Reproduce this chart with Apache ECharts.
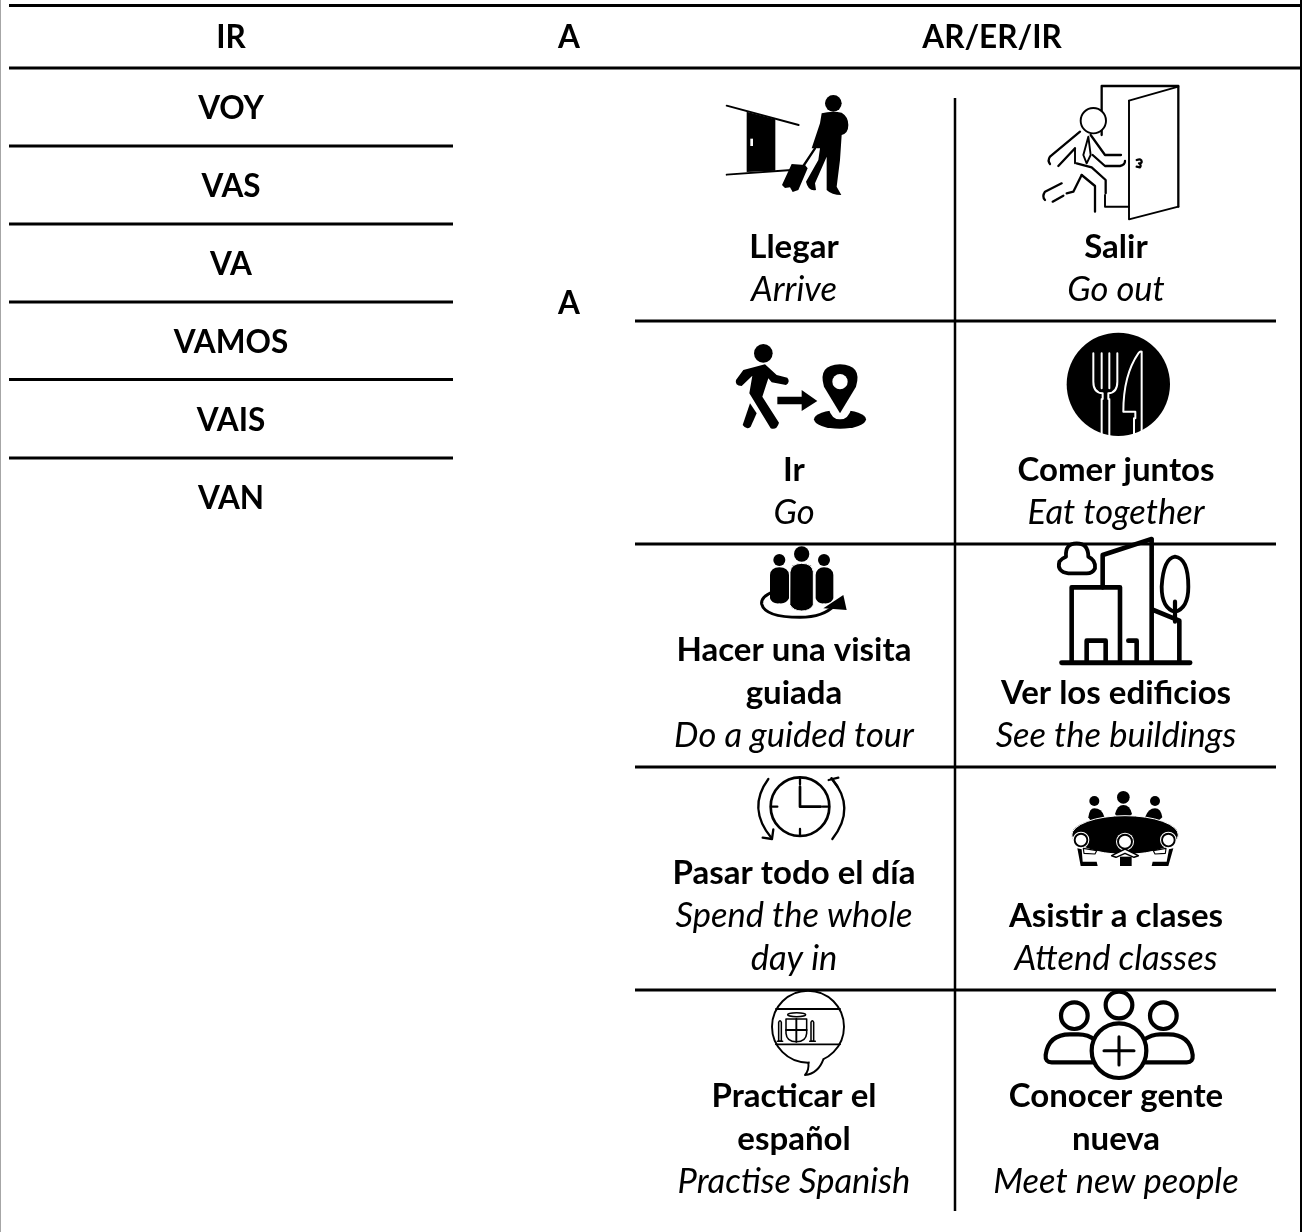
<!DOCTYPE html>
<html>
<head>
<meta charset="utf-8">
<style>html,body{margin:0;padding:0;background:#fff}#c{width:1302px;height:1232px}</style>
<script src="https://cdn.jsdelivr.net/npm/echarts@6/dist/echarts.min.js"></script>
</head>
<body>
<div id="c"></div>
<script>
// ---- content ----
const headers = ['IR', 'A', 'AR/ER/IR'];
const conjugations = ['VOY', 'VAS', 'VA', 'VAMOS', 'VAIS', 'VAN'];
const preposition = 'A';
const activitiesSpanish = [
  ['Llegar'], ['Salir'],
  ['Ir'], ['Comer juntos'],
  ['Hacer una visita', 'guiada'], ['Ver los edificios'],
  ['Pasar todo el día'], ['Asistir a clases'],
  ['Practicar el', 'español'], ['Conocer gente', 'nueva']
];
const activitiesEnglish = [
  ['Arrive'], ['Go out'],
  ['Go'], ['Eat together'],
  ['Do a guided tour'], ['See the buildings'],
  ['Spend the whole', 'day in'], ['Attend classes'],
  ['Practise Spanish'], ['Meet new people']
];

// ---- layout (pixels of the 1302x1232 page, fed through hidden axes) ----
const PAGE_W = 1302, PAGE_H = 1232;
const COL_X = { left: 231, mid: 569, right: 992, actA: 794, actB: 1116 };
const HEADER_Y = 38, CONJ_Y0 = 109, CONJ_STEP = 78, A_Y = 304;
const CELL_BOTTOM = [321, 544, 767, 990, 1213];
const LINE_STEP = 43, BOTTOM_PAD = 31;
const FONT = 'Lato, Carlito, Calibri, sans-serif';
const FS_CAPS = 31.5, FS_BOLD = 33, FS_ITALIC = 34.5;
const STROKE_BOOST = 1.15;

const rules = [
  [9, 5.5, 1300, 5.5, 3], [9, 68, 1300, 68, 3],
  [9, 146, 453, 146, 3], [9, 224, 453, 224, 3], [9, 302, 453, 302, 3],
  [9, 379.5, 453, 379.5, 3], [9, 458, 453, 458, 3],
  [635, 321, 1276, 321, 3], [635, 544, 1276, 544, 3], [635, 767, 1276, 767, 3], [635, 990, 1276, 990, 3],
  [955, 98, 955, 1211, 2.5], [1301, 0, 1301, 1232, 2]
];

// ---- text items ----
const texts = [];
headers.forEach((t, i) => texts.push({ t, x: [COL_X.left, COL_X.mid, COL_X.right][i], y: HEADER_Y, b: 2 }));
conjugations.forEach((t, i) => texts.push({ t, x: COL_X.left, y: CONJ_Y0 + CONJ_STEP * i, b: 2 }));
texts.push({ t: preposition, x: COL_X.mid, y: A_Y, b: 2 });
activitiesSpanish.forEach((es, i) => {
  const en = activitiesEnglish[i];
  const x = i % 2 ? COL_X.actB : COL_X.actA;
  const bottom = CELL_BOTTOM[Math.floor(i / 2)] - BOTTOM_PAD;
  en.forEach((t, k) => texts.push({ t, x, y: bottom - LINE_STEP * (en.length - 1 - k), b: 0 }));
  es.forEach((t, k) => texts.push({ t, x, y: bottom - LINE_STEP * (en.length + es.length - 1 - k), b: 1 }));
});
const fontOf = b => (b === 2 ? 'bold ' + FS_CAPS : b === 1 ? 'bold ' + FS_BOLD : 'italic ' + FS_ITALIC) + 'px ' + FONT;

// ---- icons: drawn at 3x in their own frame, placed at an origin ----
const circ = (cx, cy, r) => `M${cx - r},${cy}A${r},${r} 0 1 1 ${cx + r},${cy}A${r},${r} 0 1 1 ${cx - r},${cy}Z`;
const ell = (cx, cy, rx, ry) => `M${cx - rx},${cy}A${rx},${ry} 0 1 1 ${cx + rx},${cy}A${rx},${ry} 0 1 1 ${cx - rx},${cy}Z`;
const K = '#000', W = '#fff', N = 'none';
const icons = [
  { at: [700, 80], parts: [ // Llegar
    ['M80,77L296,135', N, K, 5], ['M80,284L275,270', N, K, 5],
    ['M140,95L226,118V272L140,276Z', K],
    ['M151,176h8v22h-8Z', W],
    [circ(400, 70, 25), K],
    ['M365,100Q395,92 425,98Q445,110 445,135Q445,160 425,165L420,240L410,320L424,345Q395,345 380,330L380,230L345,310L348,330Q325,335 318,305L355,240L360,205L335,205L360,130Z', K],
    ['M275,252L315,255L323,265L295,330L278,336L270,322L255,324L246,315Z', K],
    ['M310,258L345,205', N, K, 6]
  ]},
  { at: [1040, 80], parts: [ // Salir
    ['M185,165V18H415V380', N, K, 6],
    ['M267,62L415,20', N, K, 5], ['M267,62V418L415,380', N, K, 5], ['M195,345V380H267', N, K, 5],
    [circ(160, 122, 38), W, K, 5],
    ['M120,155L30,230Q22,242 30,252', N, K, 6], ['M105,205L55,258', N, K, 6], ['M105,205V250', N, K, 5],
    ['M152,165L195,225H243', N, K, 6], ['M158,225L195,258H240Q255,255 255,243', N, K, 6],
    ['M110,250L155,262L197,300V340', N, K, 6],
    ['M125,285L165,318V395', N, K, 6], ['M125,285L100,335L80,340', N, K, 6],
    ['M70,347L38,365', N, K, 6], ['M65,310L15,335Q5,350 15,360', N, K, 6],
    ['M145,170L130,225L140,250L152,225Z', N, K, 5],
    ['M290,240Q305,235 305,245Q305,250 297,250Q305,255 300,262L290,260', N, K, 6]
  ]},
  { at: [700, 325], parts: [ // Ir
    [circ(190, 85, 28), K],
    ['M130,135L195,118L230,150L262,158Q272,170 258,180L215,172L205,160L187,215L237,293Q230,317 212,310L148,205L157,152L125,183Q103,182 108,165Z', K],
    ['M150,235L170,265L152,305Q140,317 128,300Z', K],
    ['M232,215H305V195L352,228L305,258V238H232Z', K],
    [ell(420, 283, 78, 28), K],
    ['M385,248Q395,284 420,283Q445,284 455,248Z', W],
    ['M420,265L372,185Q352,120 420,118Q488,120 468,185Z', K],
    [circ(420, 170, 23), W]
  ]},
  { at: [700, 325], parts: [ // Comer juntos
    [circ(1255, 178, 155), K],
    ['M1180,85V170Q1180,203 1208,205V222H1205V335', N, W, 6],
    ['M1205,85V190M1228,85V190', N, W, 6],
    ['M1252,85V170Q1252,203 1225,205V222H1228V335', N, W, 6],
    ['M1325,335V80Q1320,78 1315,85Q1270,150 1270,260H1306V280H1302V335', N, W, 6]
  ]},
  { at: [720, 530], parts: [ // Hacer una visita
    ['M160,185Q122,200 125,222Q135,262 240,262Q310,262 345,225', N, K, 8],
    ['M370,195L380,240L310,235Z', K],
    [circ(178, 90, 18), K], [circ(245, 72, 23), K], [circ(312, 90, 18), K],
    ['M150,135Q152,112 178,112Q205,112 207,135V205Q200,222 178,220Q155,222 150,205Z', K],
    ['M287,135Q290,112 312,112Q338,112 340,135V205Q335,222 312,220Q292,222 287,205Z', K],
    ['M210,125Q214,100 245,100Q276,100 280,125V225Q270,243 245,243Q220,243 210,225Z', K, W, 3]
  ]},
  { at: [720, 530], parts: [ // Ver los edificios
    ['M1025,398H1410', N, K, 13], ['M1055,398V172H1200V398', N, K, 12],
    ['M1100,398V332H1157V398', N, K, 12], ['M1225,332H1250V398', N, K, 12],
    ['M1148,172V75L1295,27V398', N, K, 12], ['M1300,240L1378,272V398', N, K, 12],
    ['M1365,245Q1325,235 1325,170Q1330,85 1365,80Q1405,85 1405,170Q1405,235 1365,245Z', N, K, 10],
    ['M1365,215V275', N, K, 11],
    ['M1045,130Q1010,125 1018,95Q1025,85 1038,80Q1035,40 1070,40Q1105,40 1105,80Q1128,90 1125,115Q1118,130 1100,130Z', N, K, 10]
  ]},
  { at: [720, 765], parts: [ // Pasar todo el dia
    [circ(240, 125, 88), N, K, 7],
    ['M240,38V58M240,192V212M153,125H172M308,125H327', N, K, 6],
    ['M240,65V125H302', N, K, 7],
    ['M145,42Q80,130 155,220', N, K, 6], ['M128,218L156,222L160,193', N, K, 6],
    ['M335,40Q410,130 337,222', N, K, 6], ['M326,45L355,38M334,40L352,65', N, K, 6]
  ]},
  { at: [1060, 790], parts: [ // Asistir a clases
    [circ(103, 33, 15), K], [circ(190, 22, 19), K], [circ(285, 33, 15), K],
    ['M85,82Q88,55 103,55Q125,55 133,80L118,92H92Z', K],
    ['M165,72Q172,45 190,45Q210,45 216,72L200,88H178Z', K],
    ['M255,82Q265,55 285,55Q303,55 307,82L295,92H265Z', K],
    [ell(195, 135, 160, 58), K, W, 3],
    [circ(63, 150, 25), W], [circ(63, 150, 19), W, K, 5],
    [circ(325, 150, 25), W], [circ(325, 150, 19), W, K, 5],
    [circ(195, 155, 27), W], [circ(195, 155, 21), W, K, 5],
    ['M155,197L195,177L235,197L222,202L195,190L168,202Z', W, K, 4],
    ['M180,200H215V228H180Z', K],
    ['M52,175L65,178L68,215L110,215L113,228H62Z', K],
    ['M340,175L327,178L320,215L278,215L275,228H325Z', K],
    ['M70,175L110,182L105,192L72,190Z', W, K, 3], ['M318,175L280,182L285,192L316,190Z', W, K, 3]
  ]},
  { at: [730, 985], parts: [ // Practicar el espanol
    [circ(234, 125, 108), N, K, 5],
    ['M238,242Q262,240 282,224L270,212L240,222Z', W],
    ['M235,233Q238,255 225,270Q265,265 280,223', N, K, 5],
    ['M138,72H330M138,178H330', N, K, 5],
    [ell(200, 89, 27, 6), N, K, 4],
    ['M168,102H230V145Q228,170 199,170Q170,170 168,145Z', N, K, 4],
    ['M199,102V170M168,135H230', N, K, 5],
    ['M146,168V112Q150,102 154,112V168ZM142,169H158', N, K, 4],
    ['M243,168V112Q247,102 251,112V168ZM239,169H256', N, K, 4]
  ]},
  { at: [730, 985], parts: [ // Conocer gente nueva
    [circ(1167, 60, 40), N, K, 11], [circ(1033, 92, 40), N, K, 11], [circ(1300, 92, 40), N, K, 11],
    ['M1090,232H965Q945,232 947,210Q955,148 1020,148H1045Q1075,148 1095,165', N, K, 11],
    ['M1245,232H1370Q1390,232 1388,210Q1380,148 1315,148H1290Q1265,148 1240,165', N, K, 11],
    [circ(1167, 197, 82), W, K, 11],
    ['M1167,155V240M1122,197H1212', N, K, 8]
  ]}
];

const chart = echarts.init(document.getElementById('c'), null, { renderer: 'canvas' });
chart.setOption({
  animation: false,
  backgroundColor: '#fff',
  grid: { left: 0, right: 0, top: 0, bottom: 0 },
  xAxis: { type: 'value', min: 0, max: PAGE_W, show: false },
  yAxis: { type: 'value', min: 0, max: PAGE_H, inverse: true, show: false },
  series: [
    {
      name: 'icons', type: 'custom', clip: false, silent: true,
      data: icons.map((ic, i) => [ic.at[0], ic.at[1], i]),
      renderItem(params, api) {
        const p = api.coord([api.value(0), api.value(1)]);
        const ic = icons[api.value(2)];
        return {
          type: 'group', x: p[0], y: p[1], scaleX: 1 / 3, scaleY: 1 / 3,
          children: ic.parts.map(q => ({
            type: 'path',
            shape: { pathData: q[0] },
            style: { fill: q[1], stroke: q[2] || null, lineWidth: (q[3] || 0) * (q[2] === K ? STROKE_BOOST : 1), lineCap: 'round', lineJoin: 'round' }
          }))
        };
      }
    },
    {
      name: 'rules', type: 'custom', clip: false, silent: true,
      data: rules,
      renderItem(params, api) {
        const a = api.coord([api.value(0), api.value(1)]);
        const b = api.coord([api.value(2), api.value(3)]);
        return { type: 'line', shape: { x1: a[0], y1: a[1], x2: b[0], y2: b[1] },
          style: { stroke: '#000', lineWidth: api.value(4) } };
      }
    },
    {
      name: 'edge', type: 'custom', clip: false, silent: true,
      data: [[0.5, 0, 0.5, PAGE_H]],
      renderItem(params, api) {
        const a = api.coord([api.value(0), api.value(1)]);
        const b = api.coord([api.value(2), api.value(3)]);
        return { type: 'line', shape: { x1: a[0], y1: a[1], x2: b[0], y2: b[1] },
          style: { stroke: '#a6a6a6', lineWidth: 1 } };
      }
    },
    {
      name: 'labels', type: 'custom', clip: false, silent: true,
      data: texts.map((d, i) => [d.x, d.y, i]),
      renderItem(params, api) {
        const p = api.coord([api.value(0), api.value(1)]);
        const d = texts[api.value(2)];
        return {
          type: 'text', x: p[0], y: p[1],
          style: { text: d.t, fill: '#000', align: 'center', verticalAlign: 'middle', font: fontOf(d.b) }
        };
      }
    }
  ]
});
</script>
</body>
</html>
